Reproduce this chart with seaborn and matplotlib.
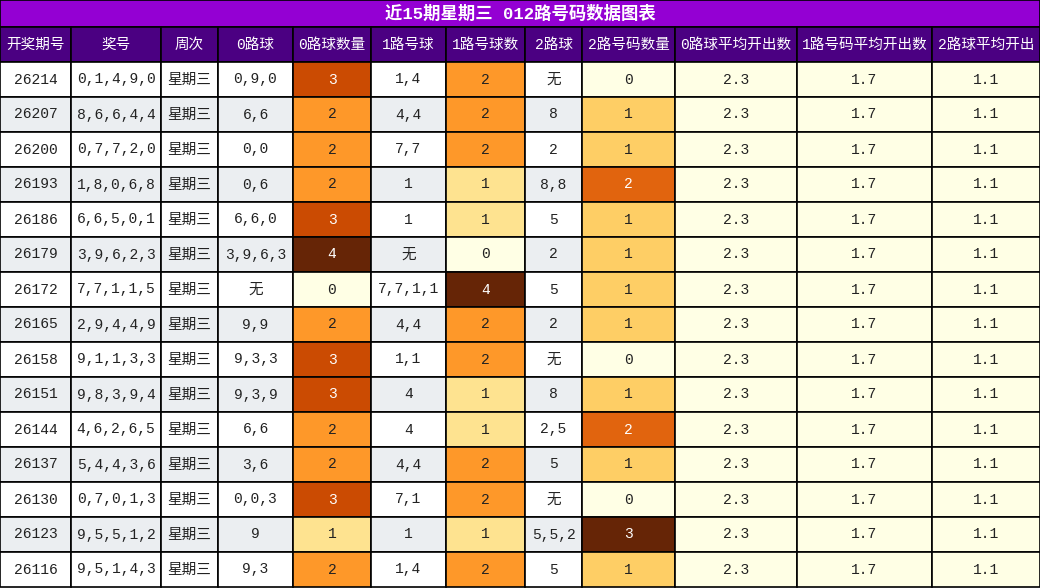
import matplotlib
matplotlib.use("Agg")
import matplotlib.pyplot as plt
import seaborn as sns
import numpy as np
from matplotlib.patches import Rectangle

sns.set_theme(style="white")
plt.rcParams['font.family'] = ['Liberation Mono', 'Noto Sans CJK SC', 'DejaVu Sans']

title = "近15期星期三 012路号码数据图表"
headers = ["开奖期号", "奖号", "周次", "0路球", "0路球数量", "1路号球", "1路号球数",
           "2路球", "2路号码数量", "0路球平均开出数", "1路号码平均开出数", "2路球平均开出"]
periods = ["26214","26207","26200","26193","26186","26179","26172","26165","26158","26151","26144","26137","26130","26123","26116"]
draws = ["0,1,4,9,0","8,6,6,4,4","0,7,7,2,0","1,8,0,6,8","6,6,5,0,1","3,9,6,2,3","7,7,1,1,5","2,9,4,4,9",
         "9,1,1,3,3","9,8,3,9,4","4,6,2,6,5","5,4,4,3,6","0,7,0,1,3","9,5,5,1,2","9,5,1,4,3"]
weekday = ["星期三"] * 15
r0 = ["0,9,0","6,6","0,0","0,6","6,6,0","3,9,6,3","无","9,9","9,3,3","9,3,9","6,6","3,6","0,0,3","9","9,3"]
c0 = [3,2,2,2,3,4,0,2,3,3,2,2,3,1,2]
r1 = ["1,4","4,4","7,7","1","1","无","7,7,1,1","4,4","1,1","4","4","4,4","7,1","1","1,4"]
c1 = [2,2,2,1,1,0,4,2,2,1,1,2,2,1,2]
r2 = ["无","8","2","8,8","5","2","5","2","无","8","2,5","5","无","5,5,2","5"]
c2 = [0,1,1,2,1,1,1,1,0,1,2,1,0,3,1]
avg0 = [2.3] * 15
avg1 = [1.7] * 15
avg2 = [1.1] * 15

widths = [71, 90, 57, 75, 78, 75, 79, 57, 93, 122, 135, 108]
edges = np.concatenate([[0], np.cumsum(widths)])
title_h, head_h, row_h = 27, 35, 35

fig = plt.figure(figsize=(10.4, 5.88), dpi=100)
ax = fig.add_axes([0, 0, 1, 1])
ax.set_xlim(0, 1040)
ax.set_ylim(588, 0)
ax.axis("off")
cmap = plt.get_cmap("YlOrBr")

def cell(x0, x1, y0, y1, fc, text, color="#222222", size=10.5, weight="normal"):
    ax.add_patch(Rectangle((x0, y0), x1 - x0, y1 - y0, facecolor=fc, edgecolor="black", lw=1.2))
    ax.text((x0 + x1) / 2, (y0 + y1) / 2, text, ha="center", va="center", color=color,
            fontsize=size, fontweight=weight)

cell(0, 1040, 0, title_h, "#9400D3", title, "white", 12.5, "bold")
for j, h in enumerate(headers):
    cell(edges[j], edges[j+1], title_h, title_h + head_h, "#4B0082", h, "white", 10.5)

for i in range(15):
    y0 = title_h + head_h + i * row_h
    y1 = y0 + row_h
    base = "white" if i % 2 == 0 else "#EBEEF1"
    plain = [periods[i], draws[i], weekday[i], r0[i], None, r1[i], None, r2[i], None,
             f"{avg0[i]:.1f}", f"{avg1[i]:.1f}", f"{avg2[i]:.1f}"]
    for j in range(12):
        if j in (4, 6, 8):
            v = {4: c0, 6: c1, 8: c2}[j][i]
            vmax = 3 if j == 8 else 4
            n = v / vmax
            cell(edges[j], edges[j+1], y0, y1, cmap(n), str(v),
                 "white" if n > 0.6 else "#222222")
        elif j >= 9:
            cell(edges[j], edges[j+1], y0, y1, "#FFFFE5", plain[j])
        else:
            cell(edges[j], edges[j+1], y0, y1, base, plain[j])

fig.savefig("out.png", dpi=100)
